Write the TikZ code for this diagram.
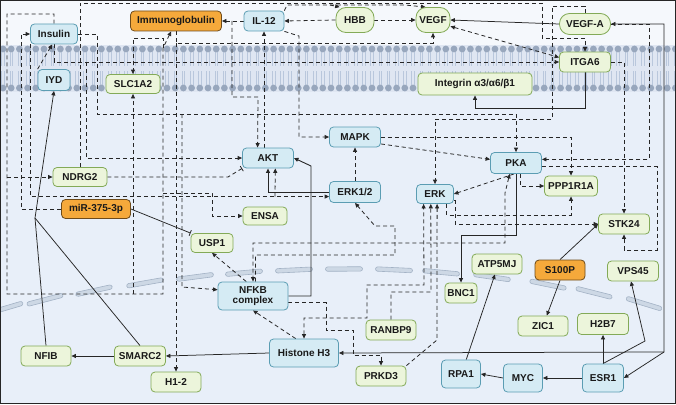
\documentclass[tikz,border=0pt]{standalone}
\usepackage{fontspec}
\setmainfont{Liberation Sans}
\usetikzlibrary{arrows.meta}
\definecolor{bfill}{HTML}{D5EBF4}
\definecolor{bdraw}{HTML}{5B9DB3}
\definecolor{gfill}{HTML}{ECF5DB}
\definecolor{gdraw}{HTML}{83AA57}
\definecolor{ofill}{HTML}{F5A93B}
\definecolor{odraw}{HTML}{6E4B1A}
\definecolor{ln}{HTML}{262626}
\definecolor{exbg}{HTML}{F5F8FC}
\definecolor{cybg}{HTML}{E8EFF9}
\definecolor{memb}{HTML}{DFE6F2}
\definecolor{head}{HTML}{98A7BD}
\definecolor{tail}{HTML}{B9C7DC}
\definecolor{pillf}{HTML}{CDD8E5}
\definecolor{pilld}{HTML}{A3B2C5}
\pgfdeclarelayer{bg}
\pgfdeclarelayer{lines}
\pgfsetlayers{bg,lines,main}
\begin{document}
\begin{tikzpicture}[x=1pt,y=-1pt,
  nbox/.style={rounded corners=4pt, line width=0.8pt, inner sep=1pt,
    font=\fontsize{10}{11}\selectfont\bfseries, text=black!90, align=center},
  bnode/.style={nbox, fill=bfill, draw=bdraw},
  gnode/.style={nbox, fill=gfill, draw=gdraw},
  onode/.style={nbox, fill=ofill, draw=odraw},
  pillnode/.style={rounded corners=10pt},
  sz/.style 2 args={minimum width=#1pt, minimum height=#2pt},
  dl/.style={draw=ln, line width=0.8pt, dash pattern=on 4pt off 3pt},
  sl/.style={draw=ln, line width=0.75pt},
  ar/.style={-{Triangle[length=4.5pt,width=4pt]}},
  ar2/.style={{Triangle[length=4.5pt,width=4pt]}-{Triangle[length=4.5pt,width=4pt]}},
  inh/.style={-{Bar[width=6pt,line width=0.8pt]}},
]
\useasboundingbox (0,0) rectangle (676,404);
\begin{pgfonlayer}{bg}
\fill[exbg] (0,0) rectangle (676,45);
\fill[cybg] (0,45) rectangle (676,404);
\fill[memb] (0,45) rectangle (676,92);
\foreach \i in {0,...,82} {
  \pgfmathsetmacro\xx{3+8.2*\i}
  \draw[tail, line width=0.5pt] (\xx-1.3,52) -- (\xx-1.3,66) (\xx+1.3,52) -- (\xx+1.3,66)
     (\xx-1.3,71) -- (\xx-1.3,85) (\xx+1.3,71) -- (\xx+1.3,85);
  \fill[head] (\xx,49) circle (3.4pt);
  \fill[head] (\xx,88) circle (3.4pt);
}
\foreach \cx in {5,45,94,145,195,244,294,344,394,441,492,548,594,644} {
  \pgfmathsetmacro\kk{ifthenelse(\cx<350,0.01817,0.02)}
  \pgfmathsetmacro\ss{ifthenelse(\cx<350,0.00086,0.00104)}
  \pgfmathsetmacro\dd{\kk*(\cx-350)}
  \pgfmathsetmacro\cy{269+\dd*\dd}
  \pgfmathsetmacro\ang{-atan(\ss*(\cx-350))}
  \node[draw=pilld, fill=pillf, line width=0.6pt, rounded corners=2.2pt,
    minimum width=37pt, minimum height=4.4pt, inner sep=0pt, rotate=\ang] at (\cx,\cy) {};
}
\draw[black!85, line width=1.2pt] (0.6,0.6) rectangle (675.4,403.4);
\end{pgfonlayer}

% nodes
\node[bnode, sz={47}{20}] (ins) at (54,34) {Insulin};
\node[bnode, sz={32}{21}] (iyd) at (54,80) {IYD};
\node[onode, sz={91}{20}] (igb) at (176,21) {Immunoglobulin};
\node[gnode, sz={54}{19}] (slc) at (133,84) {SLC1A2};
\node[bnode, sz={40}{20}] (il12) at (264,21) {IL-12};
\node[gnode, pillnode, sz={38}{25}] (hbb) at (355,20) {HBB};
\node[gnode, pillnode, sz={34}{25}] (vegf) at (433,20) {VEGF};
\node[gnode, pillnode, sz={51}{21}] (vegfa) at (585,24) {VEGF-A};
\node[gnode, sz={51}{20}] (itga6) at (585,62) {ITGA6};
\node[gnode, sz={114}{22}] (intg) at (475,84) {Integrin α3/α6/β1};
\node[bnode, sz={51}{20}] (mapk) at (355,137) {MAPK};
\node[bnode, sz={51}{20}] (akt) at (268,158) {AKT};
\node[gnode, sz={54}{19}] (ndrg2) at (80,177) {NDRG2};
\node[onode, sz={69}{19}] (mir) at (96,209) {miR-375-3p};
\node[gnode, sz={44}{18}] (ensa) at (265,216) {ENSA};
\node[gnode, sz={42}{19}] (usp1) at (212,243) {USP1};
\node[bnode, sz={51}{21}] (erk12) at (355,192) {ERK1/2};
\node[bnode, sz={37}{19}] (erk) at (435,194) {ERK};
\node[bnode, sz={51}{21}] (pka) at (516,163) {PKA};
\node[gnode, sz={53}{20}] (ppp) at (571,186) {PPP1R1A};
\node[gnode, sz={51}{20}] (stk) at (624,224) {STK24};
\node[onode, sz={50}{20}] (s100p) at (560,270) {S100P};
\node[gnode, sz={50}{20}] (atp) at (497,264) {ATP5MJ};
\node[gnode, sz={51}{20}] (vps) at (633,271) {VPS45};
\node[gnode, sz={32}{20}] (bnc1) at (461,293) {BNC1};
\node[gnode, sz={50}{20}] (zic1) at (543,326) {ZIC1};
\node[gnode, sz={51}{21}] (h2b7) at (603,324) {H2B7};
\node[bnode, sz={39}{28}] (rpa1) at (461,374) {RPA1};
\node[bnode, sz={39}{28}] (myc) at (523,378) {MYC};
\node[bnode, sz={41}{28}] (esr1) at (603,378) {ESR1};
\node[bnode, sz={70}{28}] (nfkb) at (253,296) {NFKB\\[-1pt]complex};
\node[gnode, sz={50}{20}] (ranbp9) at (391,330) {RANBP9};
\node[bnode, sz={69}{28}] (h3) at (304,353) {Histone H3};
\node[gnode, sz={50}{20}] (prkd3) at (381,376) {PRKD3};
\node[gnode, sz={50}{20}] (nfib) at (46,356) {NFIB};
\node[gnode, sz={51}{20}] (smarc2) at (140,356) {SMARC2};
\node[gnode, sz={50}{20}] (h12) at (176,382) {H1-2};

\coordinate (rc) at (664,352);
\coordinate (jl) at (35,218);

\begin{pgfonlayer}{lines}
% solid connectors
\draw[sl,ar] (vegfa.west) -- (vegf.east);
\draw[sl,ar2] (vegfa.east) -- (664,24) -- (rc) -- (esr1.east);
\draw[sl,ar] (rc) -- (h3.east);
\draw[sl,ar] (esr1.west) -- (myc.east);
\draw[sl,ar] (myc.west) -- (rpa1.east);
\draw[sl,ar] (rpa1.70) -- (atp.-101);
\draw[sl,ar] (esr1.north) -- (h2b7.south);
\draw[sl,ar] (esr1.north) -- (645,341) -- (vps.-101);
\draw[sl,ar] (s100p.south) -- (zic1.70);
\draw[sl,ar] (s100p.north) -- (stk.west);
\draw[sl,ar] (h3.west) -- (smarc2.east);
\draw[sl,ar] (smarc2.west) -- (nfib.east);
\draw[sl,ar] (nfib.north) -- (jl) -- (iyd.south);
\draw[sl] (smarc2.north) -- (jl);
\draw[sl,ar] (itga6.south) |- (475,108) -- (intg.south);
\draw[sl,ar,line width=1pt] (erk12.west) -- (268,192) -- (akt.south);
\draw[sl,ar,line width=0.9pt] (nfkb.east) -- (311,296) -- (311,166) -- (akt.east);
\draw[sl,ar,line width=0.9pt] (pka.south) -- (516,235) -| (bnc1.north);
\draw[sl,inh] (mir.east) -- (usp1.north west);

% dashed connectors
\draw[dl,ar] (hbb.west) -- (il12.east);
\draw[dl,ar] (il12.west) -- (igb.east);
\draw[dl,ar] (hbb.east) -- (vegf.west);
\draw[dl,ar2] (vegf.-20) -- (itga6.170);
\draw[dl,ar] (vegfa.east) -- (649,24) |- (pka.8);
\draw[dl,ar] (itga6.east) -| (stk.north);
\draw[dl,ar] (pka.-8) -| (657,250) -| (stk.south);
\draw[dl,ar] (ins.south) |- (itga6.west);
\draw[dl,ar] (ins.east) -| (97,114) -| (pka.north);
\draw[dl,ar] (mapk.east) -| (ppp.north);
\draw[dl,ar] (igb.south) -- (176,43) -| (vegf.south);
\draw[dl,ar] (176,43) -- (h12.north);
\draw[dl,ar] (ins.north) |- (7,14) -- (7,294) -| (163,48) -- (igb.-115);
\draw[dl,ar] (133,294) -- (slc.south);
\draw[dl,ar] (163,48) |- (133,38) -- (slc.north);
\draw[dl,ar] (iyd.north west) -- (ins.-100);
\draw[dl,ar] (mir.west) -| (21,34) -- (ins.west);
\draw[dl,ar] (7,177) -- (ndrg2.west);
\draw[dl,inh] (ndrg2.east) -- (228,177) -- (akt.south west);
\draw[dl,ar] (86,62) |- (akt.west);
\draw[dl,ar] (ins.south west) |- (erk12.190);
\draw[dl,ar] (275,196.5) -- (akt.-55);
\draw[dl,ar] (akt.north -| il12.south) -- (il12.south);
\draw[dl,ar] (il12.south east) -- (299,36) |- (mapk.west);
\draw[dl,ar] (il12.north east) -- (287,5) -- (405,5) -- (vegf.120);
\draw[dl,ar] (330,5) -- (hbb.140);
\draw[dl,ar] (ndrg2.north) |- (542,3) -- (542,38) -| (itga6.north);
\draw[dl,ar] (vegfa.north) |- (552,6) -- (552,119) -| (erk.north);
\draw[dl,ar] (erk12.north) -- (mapk.south);
\draw[dl,ar] (mapk.-15) -- (pka.172);
\draw[dl,ar] (pka.-100) -- (erk.east);
\draw[dl,ar] (pka.-70) |- (ppp.west);
\draw[dl,ar2] (pka.-120) -- (505,193) |- (253,243) -- (nfkb.north);
\draw[dl,ar] (nfkb.80) |- (395,255) |- (375,226) -- (erk12.south);
\draw[dl,ar] (nfkb.-10) -| (326,330) -| (353,355) -| (prkd3.north);
\draw[dl,ar] (h3.120) -- (nfkb.south);
\draw[dl,ar2] (h3.north) |- (367,318) |- (424,285) -- (erk.-139);
\draw[dl,ar] (ranbp9.north) |- (431,292) -- (erk.-113);
\draw[dl,ar] (prkd3.north east) -- (437,340) -- (erk.-78);
\draw[dl,ar] (erk.-40) |- (571,215) -- (ppp.south);
\draw[dl,ar] (erk.-20) -| (455,224) -- (stk.west);
\draw[dl,ar] (163,193) -| (212,216) -- (ensa.west);
\draw[dl,ar] (182,114) -- (182,287) -- (nfkb.170);
\draw[dl,ar] (nfkb.115) -- (usp1.south);
\draw[dl,ar] (232,21) |- (258,97) -- (akt.135);
\end{pgfonlayer}
\end{tikzpicture}
\end{document}
